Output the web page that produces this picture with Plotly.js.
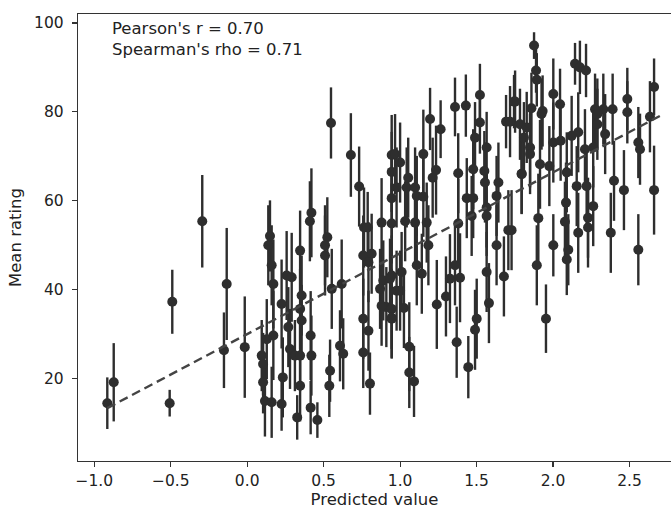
<!DOCTYPE html>
<html>
<head>
<meta charset="utf-8">
<script src="https://cdn.plot.ly/plotly-3.0.1.min.js"></script>
<style>html,body{margin:0;padding:0;background:#fff;}#chart{width:671px;height:511px;}</style>
</head>
<body>
<div id="chart"></div>
<script>
// Predicted value (x), mean rating (y), error half-width (err)
const predicted = [
-0.915,-0.873,-0.507,-0.490,-0.294,-0.134,-0.152,-0.016,
0.138,0.149,0.160,0.171,0.095,0.104,0.104,0.116,0.160,0.171,0.128,0.225,0.233,0.225,0.258,0.291,0.269,0.280,0.312,0.346,0.356,0.346,0.356,0.346,0.346,0.327,0.415,0.420,0.415,0.459,0.420,0.410,0.524,0.509,0.509,0.553,0.618,0.542,0.537,0.607,0.628,0.548,0.678,0.732,0.764,0.788,0.759,0.814,0.793,0.759,0.793,0.759,0.803,0.879,0.945,0.945,0.945,0.945,0.890,0.945,0.869,0.910,0.945,0.977,0.879,
1.522,1.359,1.430,1.196,1.265,1.745,1.693,1.522,1.490,1.566,1.152,0.967,1.000,1.235,1.213,1.380,1.478,1.551,1.795,1.555,1.643,1.631,1.436,1.478,1.566,1.468,1.380,1.053,1.043,1.098,0.977,1.109,1.152,1.033,1.098,1.174,1.708,1.566,1.631,1.566,1.679,1.581,1.501,1.490,1.446,1.370,1.240,1.300,1.326,1.392,1.359,1.185,1.109,1.142,1.010,0.934,1.000,1.025,0.945,0.945,1.060,1.060,1.091,
1.876,1.889,1.894,2.144,2.176,2.216,2.661,2.634,1.752,2.002,2.046,1.859,1.932,1.925,2.275,2.329,2.390,2.290,2.290,2.486,2.486,1.719,1.784,1.828,1.810,1.850,1.850,2.002,2.050,2.122,2.165,2.209,2.263,2.341,2.558,2.569,1.795,1.915,1.976,2.090,2.155,2.220,2.399,2.464,2.661,2.085,1.904,2.078,2.263,2.229,2.165,2.229,2.378,1.729,2.002,2.100,2.090,1.894,1.954,2.558
];
const meanRating = [
14.5,19.2,14.5,37.3,55.4,41.3,26.4,27.1,
50.0,52.1,45.5,41.3,25.2,23.3,19.2,15.0,14.7,29.7,28.9,14.3,20.3,36.8,43.2,42.8,31.6,26.7,25.2,48.8,38.7,35.7,33.1,25.2,18.4,11.3,29.7,25.2,13.5,10.7,57.3,55.4,51.8,50.0,47.7,40.2,41.3,21.8,18.4,27.4,25.6,77.5,70.3,63.2,54.0,54.0,47.7,48.1,46.2,33.5,30.8,25.9,18.9,55.1,70.3,66.5,60.6,54.9,42.1,43.2,40.2,36.1,33.5,39.8,36.4,
83.8,81.1,81.4,78.4,76.1,82.3,77.8,77.6,74.2,72.0,70.5,70.5,68.6,66.9,65.2,66.2,67.1,66.7,66.1,64.1,64.1,61.1,60.6,60.6,58.5,56.6,54.9,65.2,63.0,63.0,63.0,61.1,60.9,55.4,55.1,55.1,53.4,56.6,50.0,44.0,43.0,37.0,33.5,31.0,22.6,28.2,36.7,38.5,42.5,42.7,45.5,50.0,45.5,43.6,44.0,42.5,39.8,35.9,35.7,33.7,27.2,21.4,19.4,
94.9,89.3,87.2,90.8,90.0,89.3,85.6,78.9,82.3,84.0,81.7,80.8,80.2,79.5,80.6,80.6,80.6,79.5,77.2,82.9,79.9,77.8,77.2,76.5,74.2,72.0,70.5,73.1,73.5,74.6,75.4,71.6,72.0,75.0,73.1,71.6,66.0,68.2,67.8,66.4,63.3,63.3,64.5,62.4,62.4,59.6,56.1,55.3,58.8,56.2,52.8,54.0,52.8,53.4,50.0,49.0,46.8,45.5,33.5,49.0
];
const ratingErr = [
5.8,8.8,3,7.2,10.4,12.6,8.5,11.4,
9,8,9,10,8,7,7,8,8,10,9,6,9,10,10,10,9,9,8,9,9,9,8,8,8,5,10,9,6,4,10,9,9,9,9,9,10,7,7,8,8,8,9.4,9,9,8,9,9,9,9,9,8,7,10,9,9,9,9,9,9,9,9,9,9,9,
7,6.6,7,7,6.5,6,6,7,8,8,10,9,9,10,9,9,9,9,9,9,9,9,9,9,9,9,10,9,9,9,9,9,9,9,9,9,9,9,9,9,9,9,9,9,7,8,10,9,10,10,9,9,9,9,9,9,9,9,9,9,10,8,8,
3,5,6,4.7,6,6,6.4,8,7,8,8,8,8,8,8,8,8,8,8,7,7,8,8,8,8,9,9,9,9,9,9,9,9,9,8,8,9,10,9,9,9,9,9,9,10,9,10,9,9,9,9,9,9,9,7,8,8,9,7.7,8
];
// Regression line end points
const fitX = [-0.915, 2.70];
const fitY = [13.4, 79.1];

const ink = '#2e2e2e';
const traces = [
  {
    x: predicted, y: meanRating, type: 'scatter', mode: 'markers',
    marker: {color: ink, size: 10},
    error_y: {type: 'data', array: ratingErr, visible: true, thickness: 2.4, width: 0, color: ink},
    showlegend: false
  },
  {
    x: fitX, y: fitY, type: 'scatter', mode: 'lines',
    line: {color: '#444444', width: 2.4, dash: '9px,5px'},
    showlegend: false
  }
];
const tickFont = {family: 'DejaVu Sans, sans-serif', size: 15.5, color: '#222'};
const labelFont = {family: 'DejaVu Sans, sans-serif', size: 16.5, color: '#222'};
const layout = {
  width: 671, height: 511,
  margin: {l: 78, r: 0, t: 14, b: 50},
  paper_bgcolor: '#fff', plot_bgcolor: '#fff',
  font: tickFont,
  showlegend: false,
  xaxis: {
    range: [-1.1066, 2.7717], tickvals: [-1.0,-0.5,0.0,0.5,1.0,1.5,2.0,2.5],
    ticktext: ['\u22121.0','\u22120.5','0.0','0.5','1.0','1.5','2.0','2.5'],
    tickfont: tickFont,
    showgrid: false, zeroline: false, showline: true, mirror: true, linecolor: '#333', linewidth: 1.2,
    ticks: 'outside', ticklen: 5, tickcolor: '#333', tickwidth: 1.2,
    title: {text: 'Predicted value', font: labelFont, standoff: 4}, automargin: false
  },
  yaxis: {
    range: [1.5, 102.0], tickvals: [20,40,60,80,100],
    tickfont: tickFont,
    showgrid: false, zeroline: false, showline: true, mirror: false, linecolor: '#333', linewidth: 1.2,
    ticks: 'outside', ticklen: 5, tickcolor: '#333', tickwidth: 1.2, ticklabelstandoff: 5,
    title: {text: 'Mean rating', font: labelFont, standoff: 8}, automargin: false
  },
  annotations: [{
    xref: 'paper', yref: 'paper', x: 0.054, y: 0.993, xanchor: 'left', yanchor: 'top',
    align: 'left', showarrow: false, font: labelFont,
    text: "Pearson's r = 0.70<br>Spearman's rho = 0.71"
  }]
};
Plotly.newPlot('chart', traces, layout, {displayModeBar: false, staticPlot: true});
</script>
</body>
</html>
